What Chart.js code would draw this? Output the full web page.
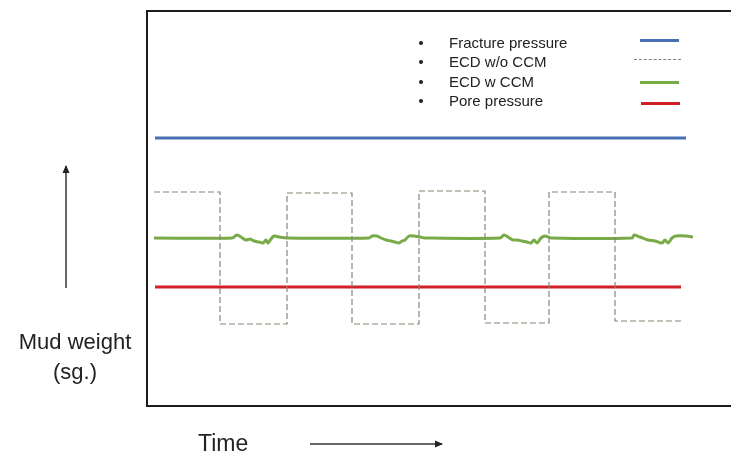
<!DOCTYPE html>
<html>
<head>
<meta charset="utf-8">
<script src="https://cdn.jsdelivr.net/npm/chart.js@4/dist/chart.umd.min.js"></script>
<style>
  html, body { margin: 0; padding: 0; background: #fff; }
  body { width: 731px; height: 455px; position: relative; overflow: hidden; font-family: "Liberation Sans", Arial, sans-serif; color: #222; }
  #wrap { position: absolute; left: 0; top: 0; width: 731px; height: 455px; }
  .lbl { position: absolute; font-size: 22px; line-height: 30px; white-space: nowrap; }
  #yLabel { left: 0; top: 327px; width: 150px; text-align: center; }
  #xLabel { left: 198px; top: 428px; font-size: 23px; }
  #legend { position: absolute; left: 414px; top: 33px; font-size: 15px; line-height: 19.3px; }
  #legend .row { position: relative; padding-left: 35px; white-space: nowrap; }
  #legend .row::before { content: ""; position: absolute; left: 5px; top: 8px; width: 4px; height: 4px; border-radius: 50%; background: #222; }
  .sample { position: absolute; height: 0; }
  svg { position: absolute; left: 0; top: 0; }
</style>
</head>
<body>
<div id="wrap"><canvas id="chart" width="731" height="455"></canvas></div>
<div id="legend"></div>
<div id="yLabel" class="lbl">Mud weight<br>(sg.)</div>
<div id="xLabel" class="lbl">Time</div>
<svg width="731" height="455">
  <defs>
    <marker id="head" markerWidth="10" markerHeight="10" refX="7" refY="4.5" orient="auto" markerUnits="userSpaceOnUse">
      <path d="M0,1 L8,4.5 L0,8 Z" fill="#222"></path>
    </marker>
  </defs>
  <line x1="66" y1="288" x2="66" y2="166" stroke="#333" stroke-width="1.5" marker-end="url(#head)"></line>
  <line x1="310" y1="444" x2="442" y2="444" stroke="#333" stroke-width="1.5" marker-end="url(#head)"></line>
</svg>
<script>
// series names
const seriesNames = ["Fracture pressure", "ECD w/o CCM", "ECD w CCM", "Pore pressure"];

// time (arbitrary units) and mud weight (arbitrary units)
const fractureTime = [9, 540];
const fractureMW = [268, 268];

const ecdNoCcmTime = [8, 74, 74, 141, 141, 206, 206, 273, 273, 339, 339, 403, 403, 469, 469, 536];
const ecdNoCcmMW = [214, 214, 82, 82, 213, 213, 82, 82, 215, 215, 83, 83, 214, 214, 85, 85];

const ecdCcmTime = [8,
  86, 91, 95, 100, 104, 108, 113, 117, 120, 122, 125, 128, 133, 141,
  223, 226, 231, 235, 240, 245, 249, 253, 256, 259, 263, 268, 274, 279,
  354, 358, 362, 367, 371, 376, 381, 385, 388, 391, 395, 399, 405,
  486, 488, 494, 502, 509, 516, 519, 522, 526, 530, 540, 547];
const ecdCcmMW = [168,
  168, 171, 169, 166, 167, 165, 164, 163, 166, 163, 167, 170, 169, 168,
  168, 170, 170, 168, 166, 165, 164, 163, 165, 166, 170, 170, 169, 168,
  168, 171, 169, 166, 166, 165, 164, 163, 166, 163, 168, 170, 168,
  168, 171, 169, 166, 165, 163, 166, 163, 168, 170, 170, 169];

const poreTime = [9, 535];
const poreMW = [119, 119];

const colors = ["#4a70b4", "#858575", "#78ab48", "#d21f26"];

function toPoints(xs, ys) {
  return xs.map((x, i) => ({ x: x, y: ys[i] }));
}

// legend (html text + sample lines)
const legendEl = document.getElementById("legend");
for (const name of seriesNames) {
  const row = document.createElement("div");
  row.className = "row";
  row.textContent = name;
  legendEl.appendChild(row);
}
const sampleTops = [40, 60, 82, 103];
const sampleLefts = [640, 634, 640, 641];
const sampleWidths = [39, 47, 39, 39];
seriesNames.forEach((name, i) => {
  const s = document.createElement("div");
  s.className = "sample";
  s.style.left = sampleLefts[i] + "px";
  s.style.top = (sampleTops[i] - 1) + "px";
  s.style.width = sampleWidths[i] + "px";
  s.style.borderTop = i === 1 ? "1px dashed " + colors[i] : "3px solid " + colors[i];
  document.body.appendChild(s);
});

const frameBox = {
  id: "frameBox",
  afterDraw(chart) {
    const { ctx, chartArea } = chart;
    ctx.save();
    ctx.strokeStyle = "#1c1c1c";
    ctx.lineWidth = 2;
    ctx.strokeRect(chartArea.left + 1, chartArea.top + 1, chartArea.right - chartArea.left, chartArea.bottom - chartArea.top - 1);
    ctx.restore();
  },
};

new Chart(document.getElementById("chart"), {
  type: "line",
  data: {
    datasets: [
      {
        label: seriesNames[0],
        data: toPoints(fractureTime, fractureMW),
        borderColor: colors[0],
        borderWidth: 3,
      },
      {
        label: seriesNames[1],
        data: toPoints(ecdNoCcmTime, ecdNoCcmMW),
        borderColor: colors[1],
        borderWidth: 1.2,
        borderDash: [6, 3],
      },
      {
        label: seriesNames[2],
        data: toPoints(ecdCcmTime, ecdCcmMW),
        borderColor: colors[2],
        borderWidth: 3,
        tension: 0.3,
      },
      {
        label: seriesNames[3],
        data: toPoints(poreTime, poreMW),
        borderColor: colors[3],
        borderWidth: 3,
      },
    ],
  },
  options: {
    responsive: false,
    animation: false,
    layout: { padding: { left: 146, top: 10, right: 0, bottom: 49 } },
    elements: { point: { radius: 0 }, line: { borderCapStyle: "butt" } },
    plugins: { legend: { display: false }, tooltip: { enabled: false } },
    scales: {
      x: { type: "linear", min: 0, max: 585, display: false },
      y: { type: "linear", min: 0, max: 396, display: false },
    },
  },
  plugins: [frameBox],
});
</script>
</body>
</html>
